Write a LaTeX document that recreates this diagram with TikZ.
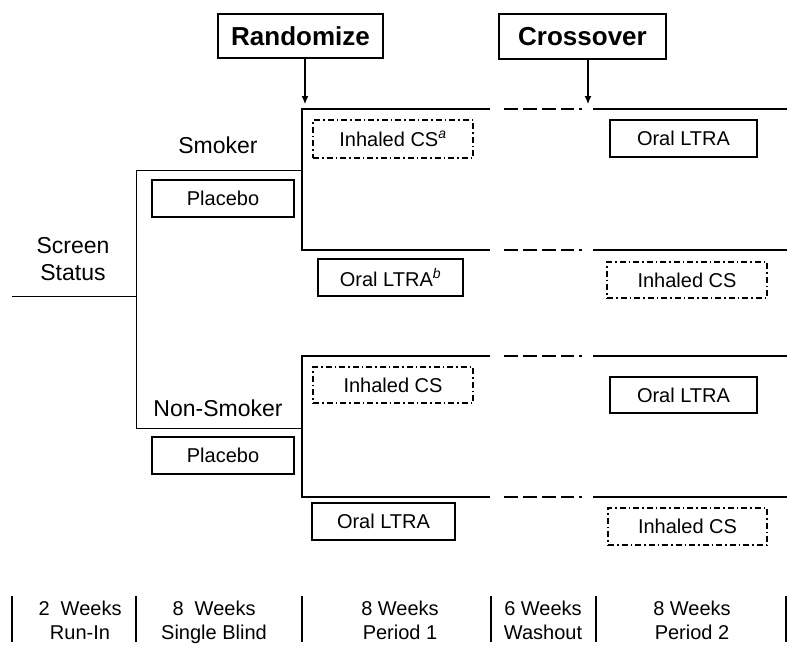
\documentclass[tikz,border=0pt]{standalone}
\usepackage{fontspec}
\setmainfont{Liberation Sans}
\usetikzlibrary{arrows.meta}
\begin{document}
\begin{tikzpicture}[x=1pt,y=-1pt,
  txt/.style={font=\fontsize{20}{24}\selectfont, inner sep=0pt, align=center},
  bigtxt/.style={font=\fontsize{23}{27}\selectfont, inner sep=0pt, align=center},
  box/.style={draw, line width=1.1pt, inner sep=0pt, font=\fontsize{20}{22}\selectfont},
  dbox/.style={box, dash pattern=on 6pt off 3pt on 1.5pt off 3pt},
  headbox/.style={draw, line width=1.1pt, inner sep=0pt, font=\fontsize{26}{28}\selectfont\bfseries},
  arm/.style={line width=1.8pt},
  branch/.style={line width=0.9pt},
  tick/.style={line width=1.5pt},
  gap/.style={line width=1.8pt, dash pattern=on 14pt off 5pt on 14pt off 5pt on 14pt off 5pt on 13pt off 5pt on 3pt off 40pt},
  arr/.style={line width=1.1pt, -{Latex[length=8pt,width=7pt]}}
]
\useasboundingbox (0,0) rectangle (800,653);

% header boxes
\node[headbox, minimum width=165pt, minimum height=44pt] (rand) at (300.5,36) {Randomize};
\node[headbox, minimum width=167pt, minimum height=45pt] (cross) at (582.5,36.5) {Crossover};
\coordinate (randtip) at (305,104);
\coordinate (crosstip) at (588,104);
\draw[arr] (rand.south -| randtip) -- (randtip);
\draw[arr] (cross.south -| crosstip) -- (crosstip);

% screen status
\node[bigtxt] (screen) at (73,259) {Screen\\Status};
\coordinate (s0) at (12,296);
\coordinate (s1) at (136,296);
\coordinate (bt) at (136,170);
\coordinate (bb) at (136,428);
\coordinate (st) at (302,170);
\coordinate (nt) at (302,428);
\draw[branch] (s0) -- (s1);
\draw[branch] (st) -- (bt) -- (bb) -- (nt);

\node[bigtxt] (smoker) at (218,145) {Smoker};
\node[bigtxt] (nonsmoker) at (218,408) {Non-Smoker};

\node[box, minimum width=142pt, minimum height=37pt] (plac1) at (223,198.5) {Placebo};
\node[box, minimum width=142pt, minimum height=37pt] (plac2) at (223,455.5) {Placebo};

% smoker arms
\coordinate (a1) at (302,109);
\coordinate (a1e) at (490,109);
\coordinate (a1d) at (504,109);
\coordinate (a1f) at (593,109);
\coordinate (a1g) at (787,109);
\coordinate (b1) at (302,250);
\coordinate (b1e) at (490,250);
\coordinate (b1d) at (504,250);
\coordinate (b1f) at (593,250);
\coordinate (b1g) at (787,250);
\draw[arm] (a1e) -- (a1) -- (b1) -- (b1e);
\draw[gap] (a1d) -- (a1f);
\draw[gap] (b1d) -- (b1f);
\draw[arm] (a1f) -- (a1g);
\draw[arm] (b1f) -- (b1g);

% non-smoker arms
\coordinate (a2) at (302,356);
\coordinate (a2e) at (490,356);
\coordinate (a2d) at (504,356);
\coordinate (a2f) at (593,356);
\coordinate (a2g) at (787,356);
\coordinate (b2) at (302,497);
\coordinate (b2e) at (490,497);
\coordinate (b2d) at (504,497);
\coordinate (b2f) at (593,497);
\coordinate (b2g) at (787,497);
\draw[arm] (a2e) -- (a2) -- (b2) -- (b2e);
\draw[gap] (a2d) -- (a2f);
\draw[gap] (b2d) -- (b2f);
\draw[arm] (a2f) -- (a2g);
\draw[arm] (b2f) -- (b2g);

% treatment boxes
\node[dbox, minimum width=160pt, minimum height=38pt] (ics1) at (393,139) {Inhaled CS\textsuperscript{\itshape a}};
\node[box, minimum width=145pt, minimum height=37pt] (ol1) at (390.5,277.5) {Oral LTRA\textsuperscript{\itshape b}};
\node[box, minimum width=147pt, minimum height=37pt] (ol2) at (683.5,138.5) {Oral LTRA};
\node[dbox, minimum width=160pt, minimum height=36pt] (ics2) at (687,280) {Inhaled CS};

\node[dbox, minimum width=160pt, minimum height=36pt] (ics3) at (393,385) {Inhaled CS};
\node[box, minimum width=143pt, minimum height=37pt] (ol3) at (383.5,521.5) {Oral LTRA};
\node[box, minimum width=147pt, minimum height=36pt] (ol4) at (683.5,395) {Oral LTRA};
\node[dbox, minimum width=159pt, minimum height=37pt] (ics4) at (687.5,526.5) {Inhaled CS};

% timeline
\foreach \x/\n in {12/t0,136/t1,302/t2,491/t3,596/t4,786/t5}{
  \coordinate (\n a) at (\x,596);
  \coordinate (\n b) at (\x,642);
  \draw[tick] (\n a) -- (\n b);
}
\node[txt] (p0) at (80,623) {\strut 2\ \ Weeks\\\strut Run-In};
\node[txt] (p1) at (214,623) {\strut 8\ \ Weeks\\\strut Single Blind};
\node[txt] (p2) at (400,623) {\strut 8 Weeks\\\strut Period 1};
\node[txt] (p3) at (543,623) {\strut 6 Weeks\\\strut Washout};
\node[txt] (p4) at (692,623) {\strut 8 Weeks\\\strut Period 2};
\end{tikzpicture}
\end{document}
